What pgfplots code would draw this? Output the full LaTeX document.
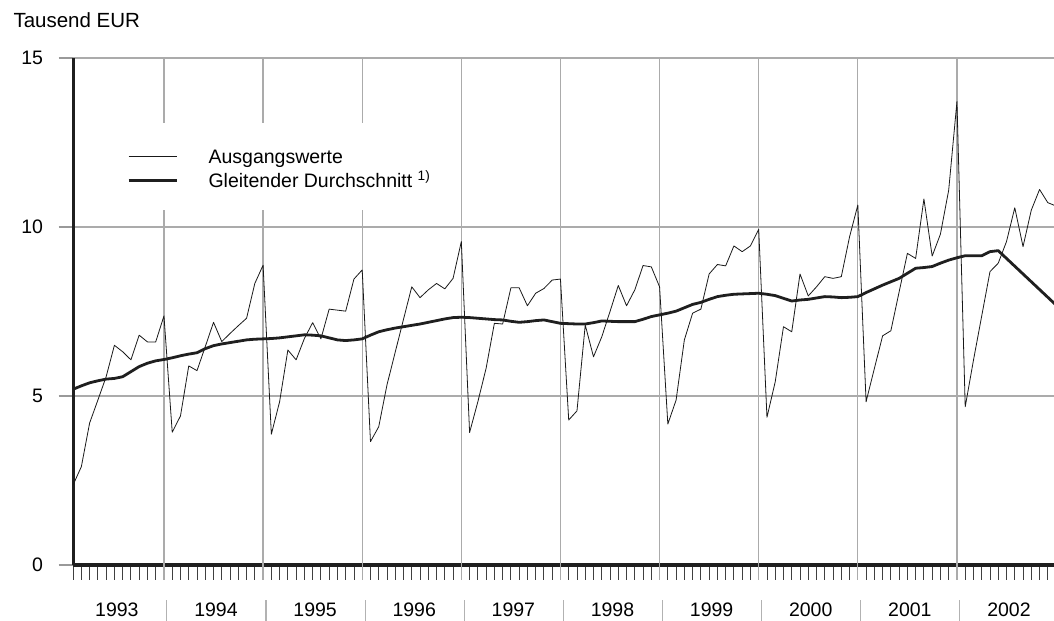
\documentclass[border=0pt]{standalone}
\usepackage{fontspec}
\setmainfont{Liberation Sans}
\usepackage{pgfplots}
\pgfplotsset{compat=1.18}
\usepackage{pgfplotstable}

\pgfplotstableread{
x y
0 2.37
1 2.91
2 4.20
3 4.88
4 5.57
5 6.50
6 6.31
7 6.07
8 6.80
9 6.60
10 6.60
11 7.37
12 3.93
13 4.41
14 5.89
15 5.75
16 6.46
17 7.18
18 6.61
19 6.85
20 7.08
21 7.30
22 8.33
23 8.87
24 3.87
25 4.83
26 6.36
27 6.07
28 6.70
29 7.17
30 6.69
31 7.57
32 7.54
33 7.51
34 8.46
35 8.73
36 3.65
37 4.09
38 5.33
39 6.30
40 7.27
41 8.23
42 7.91
43 8.14
44 8.33
45 8.17
46 8.48
47 9.57
48 3.92
49 4.83
50 5.82
51 7.15
52 7.13
53 8.20
54 8.20
55 7.67
56 8.04
57 8.18
58 8.43
59 8.46
60 4.29
61 4.56
62 7.10
63 6.16
64 6.75
65 7.50
66 8.27
67 7.67
68 8.14
69 8.86
70 8.82
71 8.23
72 4.17
73 4.88
74 6.66
75 7.45
76 7.57
77 8.61
78 8.89
79 8.85
80 9.44
81 9.27
82 9.44
83 9.93
84 4.37
85 5.42
86 7.05
87 6.90
88 8.61
89 7.96
90 8.23
91 8.53
92 8.48
93 8.53
94 9.71
95 10.65
96 4.83
97 5.81
98 6.78
99 6.93
100 8.08
101 9.22
102 9.07
103 10.83
104 9.14
105 9.79
106 11.09
107 13.71
108 4.68
109 6.06
110 7.37
111 8.68
112 8.93
113 9.57
114 10.57
115 9.42
116 10.50
117 11.11
118 10.72
119 10.62
}\rawdata

\pgfplotstableread{
x y
0 5.20
1 5.30
2 5.39
3 5.45
4 5.50
5 5.52
6 5.57
7 5.72
8 5.87
9 5.97
10 6.04
11 6.08
12 6.13
13 6.19
14 6.24
15 6.28
16 6.40
17 6.49
18 6.54
19 6.58
20 6.62
21 6.66
22 6.68
23 6.69
24 6.70
25 6.72
26 6.75
27 6.78
28 6.81
29 6.80
30 6.78
31 6.72
32 6.66
33 6.64
34 6.66
35 6.69
36 6.80
37 6.90
38 6.96
39 7.01
40 7.05
41 7.09
42 7.13
43 7.18
44 7.23
45 7.28
46 7.32
47 7.33
48 7.32
49 7.30
50 7.28
51 7.26
52 7.25
53 7.21
54 7.18
55 7.20
56 7.23
57 7.25
58 7.20
59 7.15
60 7.14
61 7.13
62 7.13
63 7.17
64 7.22
65 7.21
66 7.20
67 7.20
68 7.20
69 7.27
70 7.35
71 7.40
72 7.45
73 7.51
74 7.61
75 7.71
76 7.77
77 7.86
78 7.94
79 7.98
80 8.01
81 8.02
82 8.03
83 8.04
84 8.01
85 7.97
86 7.89
87 7.81
88 7.84
89 7.86
90 7.90
91 7.94
92 7.93
93 7.91
94 7.92
95 7.94
96 8.06
97 8.17
98 8.28
99 8.38
100 8.48
101 8.63
102 8.78
103 8.80
104 8.83
105 8.93
106 9.02
107 9.09
108 9.15
109 9.15
110 9.15
111 9.27
112 9.30
113 9.07
114 8.84
115 8.61
116 8.38
117 8.15
118 7.92
119 7.69
}\madata

\newcommand\fs{\fontsize{19.5bp}{23bp}\selectfont}

\begin{document}
\begin{tikzpicture}
\begin{axis}[
  at={(73.1bp,56bp)}, anchor=south west,
  scale only axis, width=980.9bp, height=507bp,
  xmin=0, xmax=118.75, ymin=0, ymax=15,
  clip mode=individual,
  axis x line=bottom, axis y line=left,
  axis line style={-, line width=3bp, black!88},
  xtick={0,...,118}, xticklabels={},
  ytick={0,5,10,15},
  tick align=outside, major tick length=14.5bp,
  xtick style={black!75, line width=0.9bp},
  ytick style={black!40, line width=1.1bp},
  ymajorgrids,
  grid style={black!33, line width=1.2bp},
  extra x ticks={11,23,...,107}, extra x tick labels={},
  extra x tick style={xmajorgrids=true, xtick style={black!33, line width=1.2bp}},
  yticklabel style={font=\fs, anchor=east, xshift=-12bp},
  /pgf/number format/assume math mode=true,
  legend style={at={(axis cs:5.31,13.08)}, anchor=north west, draw=none, fill=white,
    inner xsep=10bp, inner ysep=20.5bp, font=\fs, row sep=2bp,
    nodes={inner sep=0pt, text height=20bp, text depth=2bp, anchor=base west}},
  legend cell align=left,
  legend image code/.code={\draw[#1] (0bp,6.8bp) -- (48bp,6.8bp); \path[draw=none] (0bp,0bp) -- (80bp,0bp);},
]
\addplot[black!90, line width=0.8bp, line join=round] table[x=x,y=y]{\rawdata};
\addlegendentry{Ausgangswerte}
\addplot[black!88, line width=2.8bp, line join=round] table[x=x,y=y]{\madata};
\addlegendentry{Gleitender Durchschnitt \textsuperscript{1)}}
\pgfplotsinvokeforeach{0,...,9}{
  \node[anchor=base, font=\fs] at ([yshift=-51bp]axis cs:{5.3+12*#1},0) {\the\numexpr1993+#1\relax};
}
\pgfplotsinvokeforeach{0,...,8}{
  \draw[black!30, line width=1.1bp] ([yshift=-35bp]axis cs:{11.35+12*#1},0) -- ([yshift=-57bp]axis cs:{11.35+12*#1},0);
}
\end{axis}
\node[anchor=base west, font=\fontsize{20.5bp}{24bp}\selectfont] at (10bp,593bp) {Tausend EUR};
\pgfresetboundingbox
\path[use as bounding box] (0bp,0bp) rectangle (1054bp,621bp);
\end{tikzpicture}
\end{document}
